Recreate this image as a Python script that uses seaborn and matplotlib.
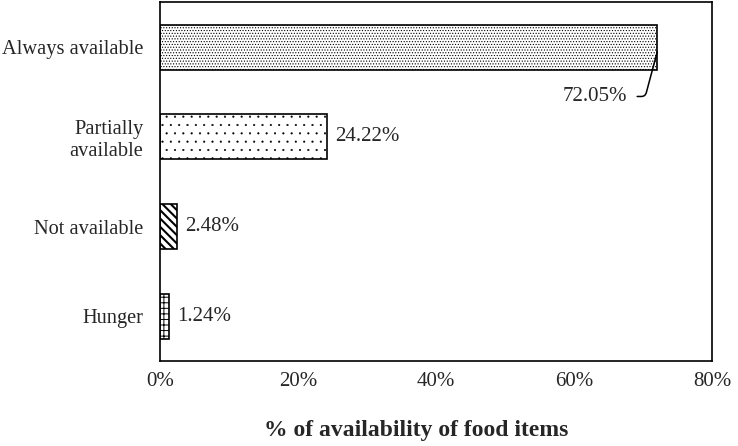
import matplotlib
matplotlib.use("Agg")
import matplotlib.pyplot as plt
import seaborn as sns
import pandas as pd

# data
categories = ["Always available", "Partially\navailable", "Not available", "Hunger"]
values = [72.05, 24.22, 2.48, 1.24]
labels = ["72.05%", "24.22%", "2.48%", "1.24%"]
hatches = ["......", "..", "\\\\\\\\", "+++"]
hatch_colors = ["#555555", "#999999", "black", "black"]
hatch_widths = [0.5, 0.3, 1.5, 0.7]
x_ticks = [0, 20, 40, 60, 80]

sns.set_style("white")
plt.rcParams["font.family"] = ["Liberation Serif", "DejaVu Serif"]

df = pd.DataFrame({"cat": categories, "val": values})

fig = plt.figure(figsize=(7.38, 4.46), dpi=100)
ax = fig.add_axes([0.217, 0.19, 0.748, 0.805])

sns.barplot(data=df, x="val", y="cat", orient="h", color="white",
            edgecolor="black", linewidth=1.2, width=0.5, ax=ax)

for p, h, hc, hw in zip(ax.patches, hatches, hatch_colors, hatch_widths):
    p.set_hatch(h)
    p.set_facecolor("white")
    p._hatch_color = matplotlib.colors.to_rgba(hc)
    if hasattr(p, "set_hatch_linewidth"):
        p.set_hatch_linewidth(hw)
    else:
        p._hatch_linewidth = hw
    p.set_edgecolor("black")

ax.set_xlim(0, 80)
ax.set_ylim(3.5, -0.5)
ax.set_xticks(x_ticks)
ax.set_xticklabels([f"{t}%" for t in x_ticks], fontsize=15)
ax.tick_params(axis="y", labelsize=14.7, length=0, pad=12)
ax.tick_params(axis="x", length=0, pad=8)
ax.set_ylabel("")
ax.set_xlabel("% of availability of food items", fontsize=17, fontweight="bold")
ax.xaxis.set_label_coords(0.464, -0.165)
for s in ax.spines.values():
    s.set_color("black")
    s.set_linewidth(1.2)

# first label sits below the bar with a leader line
ax.annotate(labels[0], xy=(values[0], 0.05), xytext=(values[0] - 4.4, 0.55),
            fontsize=15, ha="right", va="center",
            arrowprops=dict(arrowstyle="-", color="black", lw=1.1, relpos=(1, 0.5),
                            connectionstyle="angle,angleA=0,angleB=75,rad=4",
                            shrinkA=5, shrinkB=0))
for i in range(1, 4):
    ax.text(values[i] + 1.2, i, labels[i], fontsize=15, ha="left", va="center")

fig.savefig("out.png", dpi=100)
